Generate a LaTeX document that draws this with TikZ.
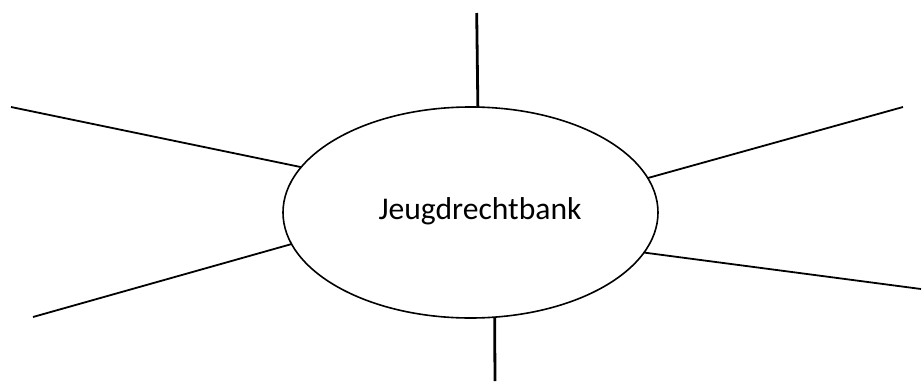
\documentclass[tikz,border=0pt]{standalone}
\usepackage{fontspec}
\setmainfont{Carlito}
\usetikzlibrary{shapes.geometric}
\begin{document}
\begin{tikzpicture}[x=1pt,y=-1pt,
  hub/.style={draw=black,ellipse,line width=1.6pt,minimum width=375pt,minimum height=211pt,inner sep=0pt,outer sep=0pt},
  spoke/.style={draw=black,line width=1.8pt},
  vspoke/.style={draw=black,line width=2.8pt},
  lbl/.style={font=\fontsize{31.6}{36}\selectfont,inner sep=0pt,anchor=base}]
\useasboundingbox (0,0) rectangle (922,381);
\node[hub] (c) at (470.5,212.5) {};
\node[lbl] (t) at (480,219) {Jeugdrechtbank};
\coordinate (ul) at (11,107);
\coordinate (ur) at (903,107);
\coordinate (ll) at (33,317);
\coordinate (lr) at (921,289);
\coordinate (tp) at (476.7,13);
\coordinate (bt) at (495,381);
\draw[spoke] (ul) -- (c.165.5);
\draw[spoke] (ur) -- (c.11.2);
\draw[spoke] (ll) -- (c.190.3);
\draw[spoke] (lr) -- (c.347.2);
\draw[vspoke] (tp) -- (c.86.6);
\draw[vspoke] (bt) -- (c.283.1);
\end{tikzpicture}
\end{document}
